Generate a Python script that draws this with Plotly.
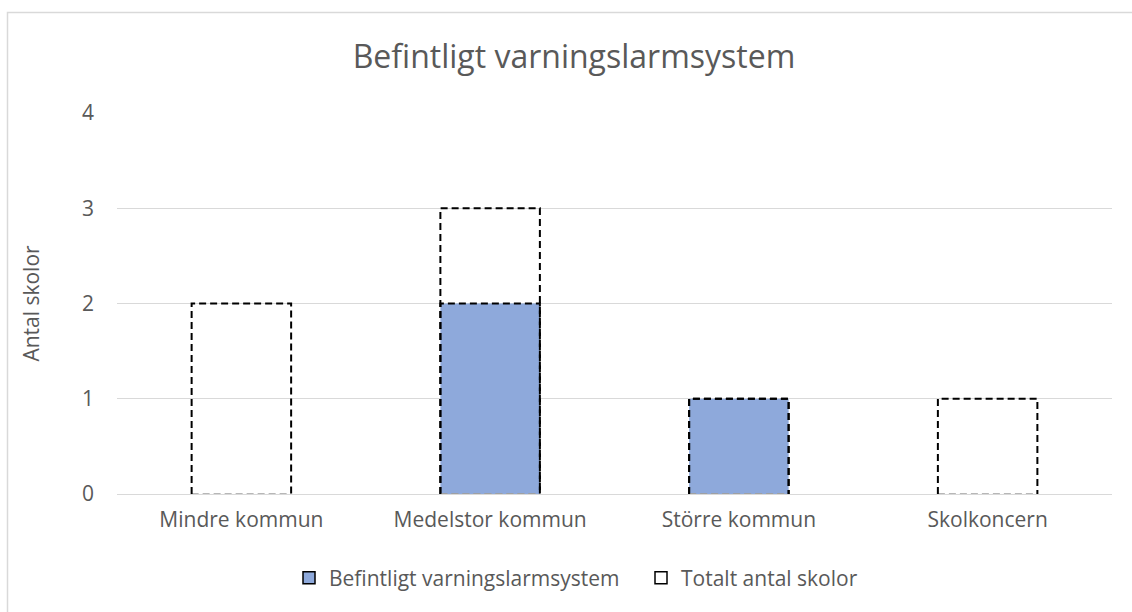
import plotly.graph_objects as go

categories = ["Mindre kommun", "Medelstor kommun", "Större kommun", "Skolkoncern"]
befintligt = [0, 2, 1, 0]
totalt = [2, 3, 1, 1]
y_ticks = [0, 1, 2, 3, 4]

title = "Befintligt varningslarmsystem"
name_a = "Befintligt varningslarmsystem"
name_b = "Totalt antal skolor"
y_title = "Antal skolor"

BLUE = "#8EA9DB"
TXT = "#595959"
GRID = "#D9D9D9"
FONT = "Open Sans"
BW = 0.4

W, H = 1132, 612
L, R, T, B = 117, 20, 113, 118

xs = list(range(len(categories)))

fig = go.Figure()

# filled bars
fig.add_trace(go.Bar(x=xs, y=befintligt, width=BW, marker=dict(color=BLUE, line=dict(width=0)),
                     showlegend=False, hoverinfo="skip"))
fig.add_trace(go.Bar(x=xs, y=totalt, width=BW, marker=dict(color="rgba(0,0,0,0)", line=dict(width=0)),
                     showlegend=False, hoverinfo="skip"))


def outline(vals):
    px, py, bx, by = [], [], [], []
    for i, v in zip(xs, vals):
        if v == 0:
            continue
        px += [i - BW / 2, i - BW / 2, i + BW / 2, i + BW / 2, None]
        py += [0, v, v, 0, None]
        bx += [i - BW / 2, i + BW / 2, None]
        by += [0, 0, None]
    return px, py, bx, by


for vals in (totalt, befintligt):
    px, py, bx, by = outline(vals)
    fig.add_trace(go.Scatter(x=bx, y=by, mode="lines", line=dict(color="#A0A0A0", width=1.5, dash="7px,4px"),
                             showlegend=False, hoverinfo="skip"))
    fig.add_trace(go.Scatter(x=px, y=py, mode="lines", line=dict(color="black", width=2, dash="7px,4px"),
                             showlegend=False, hoverinfo="skip"))

# legend entries
fig.add_trace(go.Bar(x=[None], y=[None], name=name_a,
                     marker=dict(color=BLUE, line=dict(color="black", width=1.5))))
fig.add_trace(go.Bar(x=[None], y=[None], name=name_b,
                     marker=dict(color="white", line=dict(color="black", width=1.5))))

pw = W - L - R
ph = H - T - B

bx0 = (7.5 - L) / pw
bx1 = (W + 60 - L) / pw
by0 = -(B + 60) / ph
by1 = (H - B - 12.5) / ph

fig.update_layout(
    width=W, height=H,
    margin=dict(l=L, r=R, t=T, b=B),
    paper_bgcolor="white", plot_bgcolor="white",
    barmode="overlay",
    font=dict(family=FONT, color=TXT, size=21),
    title=dict(text=title, x=(574 - L) / pw, xref="paper", xanchor="center",
               y=1 - 57 / H, yref="container", yanchor="middle",
               font=dict(size=32, color=TXT, family=FONT)),
    xaxis=dict(range=[-0.5, len(categories) - 0.5], tickvals=xs, ticktext=categories,
               showgrid=False, zeroline=False, showline=True, linecolor=GRID, linewidth=1,
               ticks="", tickfont=dict(size=21, color=TXT), ticklabelstandoff=7),
    yaxis=dict(range=[0, 4], tickvals=y_ticks, showgrid=True, gridcolor=GRID, gridwidth=1,
               zeroline=False, showline=False, ticks="", tickfont=dict(size=21, color=TXT),
               ticklabelstandoff=22,
               title=dict(text=y_title, font=dict(size=21, color=TXT), standoff=36)),
    legend=dict(orientation="h", x=(289 - L) / pw, xanchor="left",
                y=(H - B - 578) / ph, yanchor="middle", font=dict(size=21, color=TXT),
                entrywidth=307, entrywidthmode="pixels",
                itemclick=False, bgcolor="rgba(0,0,0,0)"),
    shapes=[dict(type="path", xref="paper", yref="paper",
                 path=f"M {bx0},{by0} L {bx0},{by1} L {bx1},{by1}",
                 line=dict(color=GRID, width=1.5), layer="below")],
)

fig.write_html("out.html", config={"displayModeBar": False},
               post_script="document.body.style.margin='0px';document.body.style.overflow='hidden';document.documentElement.style.overflow='hidden';")
